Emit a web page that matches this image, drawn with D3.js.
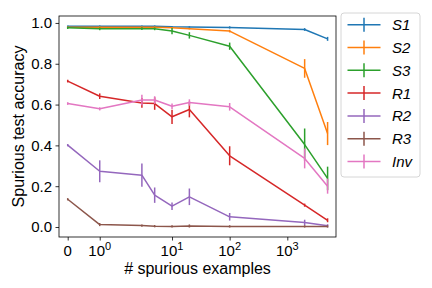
<!DOCTYPE html>
<html><head><meta charset="utf-8">
<script src="https://cdn.jsdelivr.net/npm/d3@7"></script>
<style>
html,body{margin:0;padding:0;background:#fff;}
svg text{font-family:"Liberation Sans",Arial,sans-serif;}
</style></head>
<body><svg id="c" width="432" height="288"></svg>
<script>
const xValues = [0, 1, 3, 5, 10, 20, 100, 2000, 5000];
const seriesNames = ["S1", "S2", "S3", "R1", "R2", "R3", "Inv"];
const colors = ["#1f77b4", "#ff7f0e", "#2ca02c", "#d62728", "#9467bd", "#8c564b", "#e377c2"];
const S1 = [0.984, 0.984, 0.984, 0.984, 0.981, 0.980, 0.978, 0.968, 0.922];
const S1err = [0, 0, 0, 0, 0, 0, 0.002, 0.003, 0.006];
const S2 = [0.979, 0.979, 0.979, 0.979, 0.976, 0.972, 0.960, 0.777, 0.458];
const S2err = [0, 0, 0, 0, 0, 0, 0.003, 0.042, 0.053];
const S3 = [0.976, 0.971, 0.972, 0.971, 0.960, 0.939, 0.886, 0.404, 0.238];
const S3err = [0.002, 0.003, 0.003, 0.003, 0.012, 0.012, 0.014, 0.075, 0.054];
const R1 = [0.715, 0.641, 0.608, 0.605, 0.540, 0.576, 0.349, 0.107, 0.033];
const R1err = [0.003, 0.01, 0.02, 0.027, 0.031, 0.035, 0.043, 0.004, 0.006];
const R2 = [0.401, 0.273, 0.254, 0.156, 0.102, 0.148, 0.050, 0.022, 0.006];
const R2err = [0.002, 0.05, 0.053, 0.034, 0.015, 0.037, 0.015, 0.01, 0.004];
const R3 = [0.136, 0.012, 0.007, 0.004, 0.003, 0.005, 0.003, 0.003, 0.003];
const R3err = [0.002, 0.004, 0.002, 0.002, 0.002, 0.004, 0.002, 0.002, 0.002];
const Inv = [0.605, 0.579, 0.622, 0.622, 0.592, 0.610, 0.589, 0.336, 0.200];
const Inverr = [0.003, 0.004, 0.022, 0.015, 0.01, 0.012, 0.015, 0.045, 0.033];
const yTicks = [0, 0.2, 0.4, 0.6, 0.8, 1.0];
const xTicks = [0, 1, 10, 100, 1000];
const xTickLabels = [["0", ""], ["10", "0"], ["10", "1"], ["10", "2"], ["10", "3"]];

const values = [S1, S2, S3, R1, R2, R3, Inv];
const errs = [S1err, S2err, S3err, R1err, R2err, R3err, Inverr];

// matplotlib-style symlog transform (base 10, linthresh 2, linscale 1)
const linthresh = 2, linAdj = 1 / (1 - 1 / 10);
const symlog = v => Math.abs(v) <= linthresh ? v * linAdj
  : Math.sign(v) * linthresh * (linAdj + Math.log10(Math.abs(v) / linthresh));

const L = 59, R = 336, T = 16, B = 237;
const xs = d3.scaleLinear().domain([-0.302, 9.31]).range([L, R]);
const x = v => xs(symlog(v));
const y = d3.scaleLinear().domain([-0.049, 1.034]).range([B, T]);

const svg = d3.select("#c");

// plot series
const line = d3.line().x(d => x(d[0])).y(d => y(d[1]));
values.forEach((vals, i) => {
  const g = svg.append("g");
  const pts = xValues.map((xv, j) => [xv, vals[j], errs[i][j]]);
  g.append("path").datum(pts).attr("d", line).attr("fill", "none")
    .attr("stroke", colors[i]).attr("stroke-width", 1.5).attr("stroke-linejoin", "round");
  g.selectAll("line.err").data(pts).enter().append("line")
    .attr("x1", d => x(d[0])).attr("x2", d => x(d[0]))
    .attr("y1", d => y(d[1] - d[2]) + 0.75).attr("y2", d => y(d[1] + d[2]) - 0.75)
    .attr("stroke", colors[i]).attr("stroke-width", 1.5);
});

// frame
svg.append("rect").attr("x", L).attr("y", T).attr("width", R - L).attr("height", B - T)
  .attr("fill", "none").attr("stroke", "#000").attr("stroke-width", 0.8);

// y axis
const yAxis = svg.append("g").attr("transform", `translate(${L},0)`)
  .call(d3.axisLeft(y).tickValues(yTicks).tickFormat(d3.format(".1f")).tickSize(3.5).tickPadding(3.5));
yAxis.select(".domain").remove();
yAxis.selectAll("line").attr("stroke-width", 0.8);
yAxis.selectAll("text").attr("font-size", 15).attr("fill", "#000")
  .attr("font-family", "Liberation Sans, Arial, sans-serif");

// x axis
const xAxis = svg.append("g").attr("transform", `translate(0,${B})`);
const xAxisScale = d3.scaleLinear().domain(xs.domain()).range(xs.range());
xAxis.call(d3.axisBottom(xAxisScale).tickValues(xTicks.map(symlog)).tickFormat("").tickSize(3.5));
xAxis.select(".domain").remove();
xAxis.selectAll("line").attr("stroke-width", 0.8);
xTicks.forEach((t, i) => {
  const txt = svg.append("text").attr("x", x(t)).attr("y", B + 19)
    .attr("text-anchor", "middle").attr("font-size", 15).attr("fill", "#000");
  txt.append("tspan").text(xTickLabels[i][0]);
  if (xTickLabels[i][1]) {
    txt.append("tspan").attr("dy", -6).attr("font-size", 11).text(xTickLabels[i][1]);
  }
});

// axis labels
svg.append("text").attr("x", (L + R) / 2).attr("y", 274).attr("text-anchor", "middle")
  .attr("font-size", 16).text("# spurious examples");
svg.append("text").attr("transform", `translate(23.5,${(T + B) / 2}) rotate(-90)`)
  .attr("text-anchor", "middle").attr("font-size", 16).text("Spurious test accuracy");

// legend
const lg = svg.append("g");
lg.append("rect").attr("x", 341).attr("y", 13).attr("width", 79).attr("height", 164)
  .attr("rx", 3).attr("fill", "#fff").attr("fill-opacity", 0.8)
  .attr("stroke", "#ccc").attr("stroke-width", 0.8);
seriesNames.forEach((n, i) => {
  const cy = 24.7 + i * 22.8;
  lg.append("line").attr("x1", 347.5).attr("x2", 380.5).attr("y1", cy).attr("y2", cy)
    .attr("stroke", colors[i]).attr("stroke-width", 1.5);
  lg.append("line").attr("x1", 364).attr("x2", 364).attr("y1", cy - 7).attr("y2", cy + 7)
    .attr("stroke", colors[i]).attr("stroke-width", 1.5);
  lg.append("text").attr("x", 392).attr("y", cy + 5.5).attr("font-size", 15)
    .attr("font-style", "italic").text(n);
});
</script></body></html>
